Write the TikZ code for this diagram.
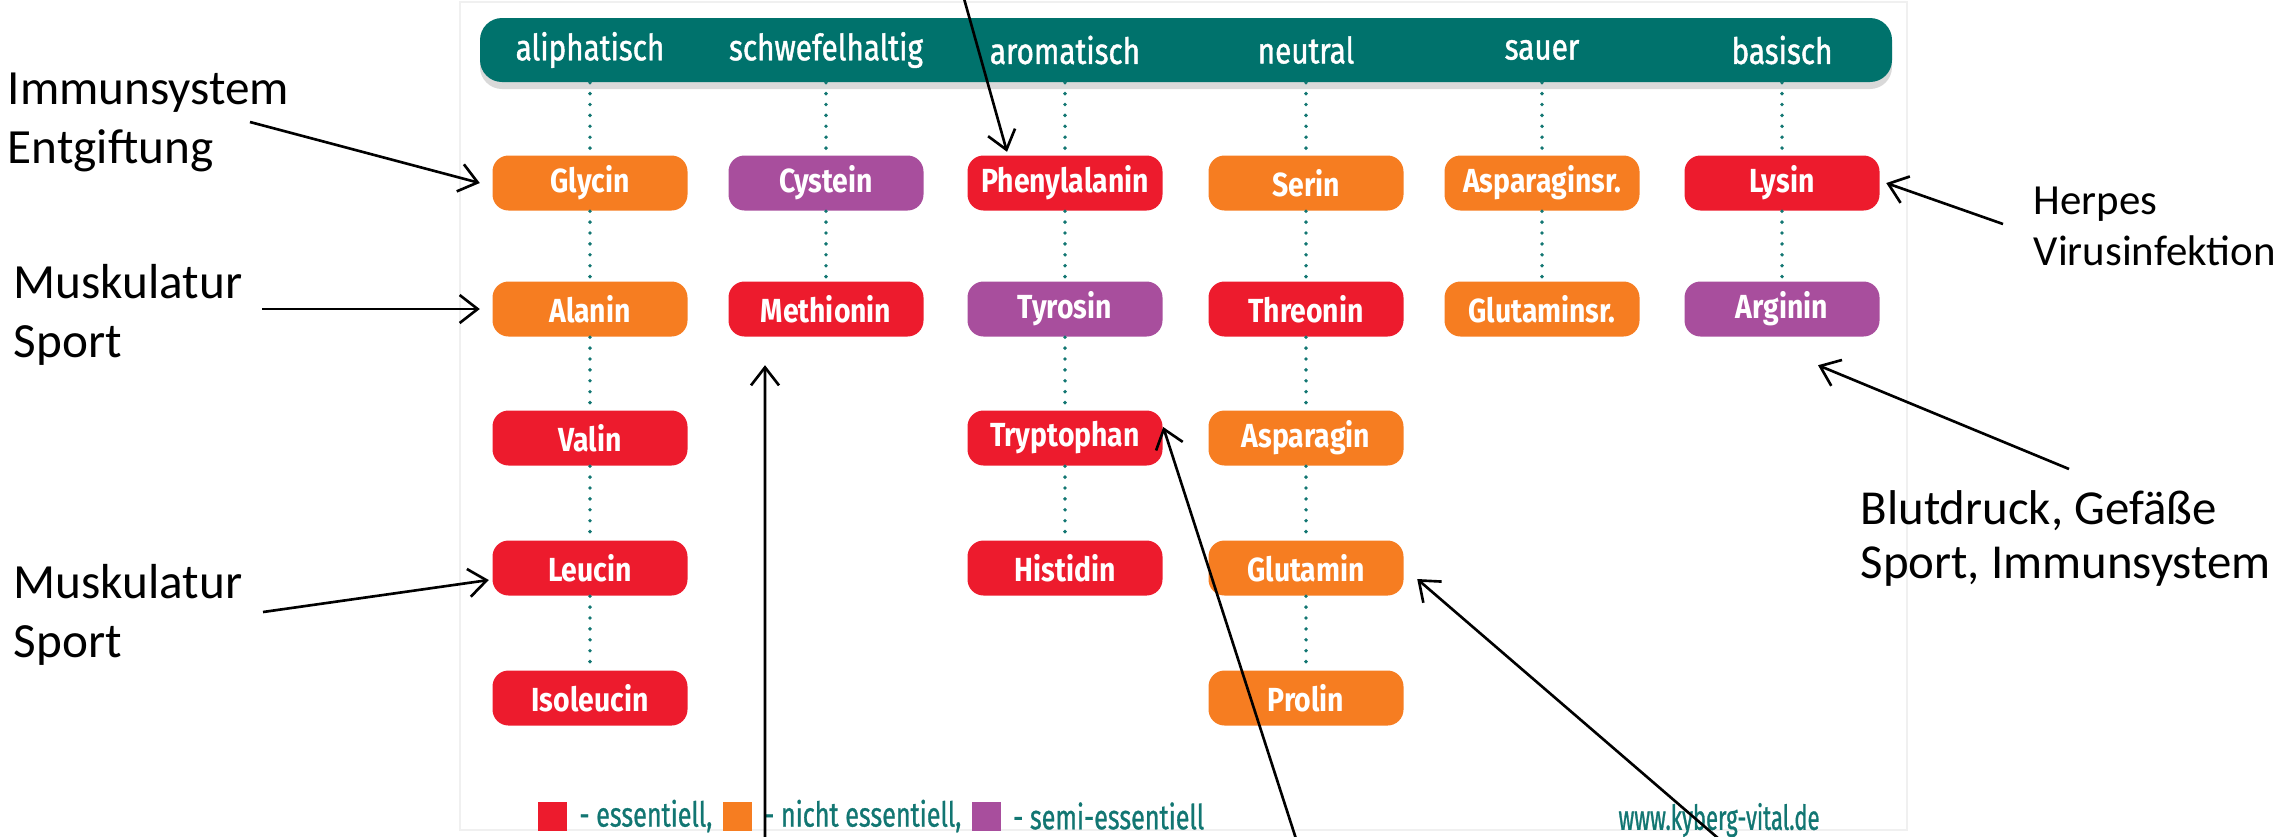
\documentclass[tikz,border=0pt]{standalone}
\usepackage{fontspec}
\setmainfont{Carlito}
\newfontfamily\tabfont[FakeStretch=0.85]{Fira Sans}
\newfontfamily\headfont[FakeStretch=0.82,FakeBold=1.2]{Fira Sans}
\newfontfamily\legfont[FakeStretch=0.73,FakeBold=0.8]{Fira Sans}
\newfontfamily\urlfont[FakeStretch=0.64,FakeBold=0.8]{Fira Sans}
\usepackage{tikz}
\usetikzlibrary{calc}
\usetikzlibrary{positioning}
\usetikzlibrary{arrows.meta}
\usetikzlibrary{shadows}
\definecolor{tealhead}{RGB}{0,114,108}
\definecolor{tealtext}{RGB}{18,118,114}
\definecolor{aored}{RGB}{237,27,45}
\definecolor{aoorange}{RGB}{246,125,33}
\definecolor{aopurple}{RGB}{168,78,157}
\tikzset{head/.style={rectangle,rounded corners=2.2mm,fill=tealhead,minimum width=14.12cm,minimum height=0.64cm,drop shadow={shadow xshift=0pt,shadow yshift=-0.7mm,opacity=0.3}}}
\tikzset{htext/.style={text=white,font=\headfont\fontsize{10.3}{12}\selectfont,inner sep=0pt}}
\tikzset{amino/.style={rectangle,rounded corners=1.6mm,minimum width=1.95cm,minimum height=0.55cm,inner sep=0pt,text=white,font=\tabfont\bfseries\fontsize{9.5}{11}\selectfont}}
\tikzset{ess/.style={amino,fill=aored}}
\tikzset{ness/.style={amino,fill=aoorange}}
\tikzset{semi/.style={amino,fill=aopurple}}
\tikzset{dotline/.style={draw=tealtext,line width=1.1pt,line cap=round,dash pattern=on 0pt off 3.1pt}}
\tikzset{note/.style={inner sep=0pt,align=left,font=\fontsize{14}{16.8}\selectfont}}
\tikzset{noter/.style={inner sep=0pt,align=left,font=\fontsize{12.2}{14.6}\selectfont}}
\tikzset{noterr/.style={inner sep=0pt,align=left,font=\fontsize{13.9}{15.4}\selectfont}}
\tikzset{pfeil/.style={line width=0.75pt,-{Straight Barb[length=1.8mm,width=2.8mm]}}}
\tikzset{legbox/.style={rectangle,minimum size=0.29cm,inner sep=0pt}}
\tikzset{legtext/.style={inner sep=0pt,text=tealtext,font=\legfont\fontsize{9.8}{11}\selectfont}}
\tikzset{urltext/.style={inner sep=0pt,text=tealtext,font=\urlfont\fontsize{9.8}{11}\selectfont}}

\begin{document}
\begin{tikzpicture}
\useasboundingbox (0,0) rectangle (22.84,-8.36);
\draw[black!6] (4.60,-0.02) rectangle (19.07,-8.30);

% header
\node[head] (bar) at (11.86,-0.50) {};
\node[htext] (hali) at (5.90,-0.50) {aliphatisch};
\node[htext] (hschw) at (8.26,-0.50) {schwefelhaltig};
\node[htext] (harom) at (10.65,-0.50) {aromatisch};
\node[htext] (hneu) at (13.06,-0.50) {neutral};
\node[htext] (hsau) at (15.42,-0.50) {sauer};
\node[htext] (hbas) at (17.82,-0.50) {basisch};

% amino acids
\node[ness] (gly) at (5.90,-1.83) {Glycin};
\node[ness] (ala) at (5.90,-3.09) {Alanin};
\node[ess] (val) at (5.90,-4.38) {Valin};
\node[ess] (leu) at (5.90,-5.68) {Leucin};
\node[ess] (ile) at (5.90,-6.98) {Isoleucin};

\node[semi] (cys) at (8.26,-1.83) {Cystein};
\node[ess] (met) at (8.26,-3.09) {Methionin};

\node[ess] (phe) at (10.65,-1.83) {Phenylalanin};
\node[semi] (tyr) at (10.65,-3.09) {Tyrosin};
\node[ess] (trp) at (10.65,-4.38) {Tryptophan};
\node[ess] (his) at (10.65,-5.68) {Histidin};

\node[ness] (ser) at (13.06,-1.83) {Serin};
\node[ess] (thr) at (13.06,-3.09) {Threonin};
\node[ness] (asn) at (13.06,-4.38) {Asparagin};
\node[ness] (gln) at (13.06,-5.68) {Glutamin};
\node[ness] (pro) at (13.06,-6.98) {Prolin};

\node[ness] (asp) at (15.42,-1.83) {Asparaginsr.};
\node[ness] (glu) at (15.42,-3.09) {Glutaminsr.};

\node[ess] (lys) at (17.82,-1.83) {Lysin};
\node[semi] (arg) at (17.82,-3.09) {Arginin};

\foreach \c in {gly,cys,phe,ser,asp,lys}
  \draw[dotline] (bar.south -| \c) -- (\c.north);
\foreach \a/\b in {gly/ala,ala/val,val/leu,leu/ile,cys/met,phe/tyr,tyr/trp,trp/his,ser/thr,thr/asn,asn/gln,gln/pro,asp/glu,lys/arg}
  \draw[dotline] (\a.south) -- (\b.north);

% legend
\node[legbox,fill=aored] (lgR) at (5.525,-8.16) {};
\node[legtext,right=1.1mm of lgR] (lgRt) {- essentiell,};
\node[legbox,fill=aoorange,right=0.9mm of lgRt] (lgO) {};
\node[legtext,right=1.1mm of lgO] (lgOt) {- nicht essentiell,};
\node[legbox,fill=aopurple,right=0.9mm of lgOt] (lgP) {};
\node[legtext,right=1.1mm of lgP] (lgPt) {- semi-essentiell};
\node[urltext] (url) at (17.19,-8.20) {www.kyberg-vital.de};

% notes
\node[note,anchor=north west] (immu) at (0.07,-0.72) {Immunsystem\\Entgiftung};
\node[note,anchor=north west] (musk1) at (0.13,-2.64) {Muskulatur\\Sport};
\node[note,anchor=north west] (musk2) at (0.13,-5.64) {Muskulatur\\Sport};
\node[noter,anchor=north west] (herp) at (20.33,-1.86) {Herpes\\Virusinfektion};
\node[noterr,anchor=north west] (blut) at (18.60,-4.90) {Blutdruck, Gefäße\\Sport, Immunsystem};

\coordinate (tImmu) at (2.50,-1.22);
\coordinate (tMusk1) at (2.62,-3.09);
\coordinate (tMusk2) at (2.63,-6.12);
\coordinate (tHerp) at (20.03,-2.24);
\coordinate (tBlut) at (20.69,-4.69);
\coordinate (tTop) at (9.63,0.05);
\coordinate (tMet) at (7.65,-8.45);
\coordinate (tTrp) at (12.98,-8.45);
\coordinate (tGln) at (17.26,-8.45);

\draw[pfeil] (tImmu) -- ([xshift=-1.2mm]gly.west);
\draw[pfeil] (tMusk1) -- ([xshift=-1.2mm]ala.west);
\draw[pfeil] (tMusk2) -- ([xshift=-0.3mm,yshift=-1.2mm]leu.west);
\draw[pfeil] (tHerp) -- ([xshift=0.6mm]lys.east);
\draw[pfeil] (tBlut) -- ([xshift=3.6mm,yshift=-2.8mm]arg.south);
\draw[pfeil] (tTop) -- ([xshift=-5.8mm,yshift=0.3mm]phe.north);
\draw[pfeil] (tMet) -- ([xshift=-6.1mm,yshift=-2.8mm]met.south);
\draw[pfeil] (tTrp) -- ([yshift=1.1mm]trp.east);
\draw[pfeil] (tGln) -- ([xshift=1.3mm,yshift=-1.1mm]gln.east);
\end{tikzpicture}
\end{document}
